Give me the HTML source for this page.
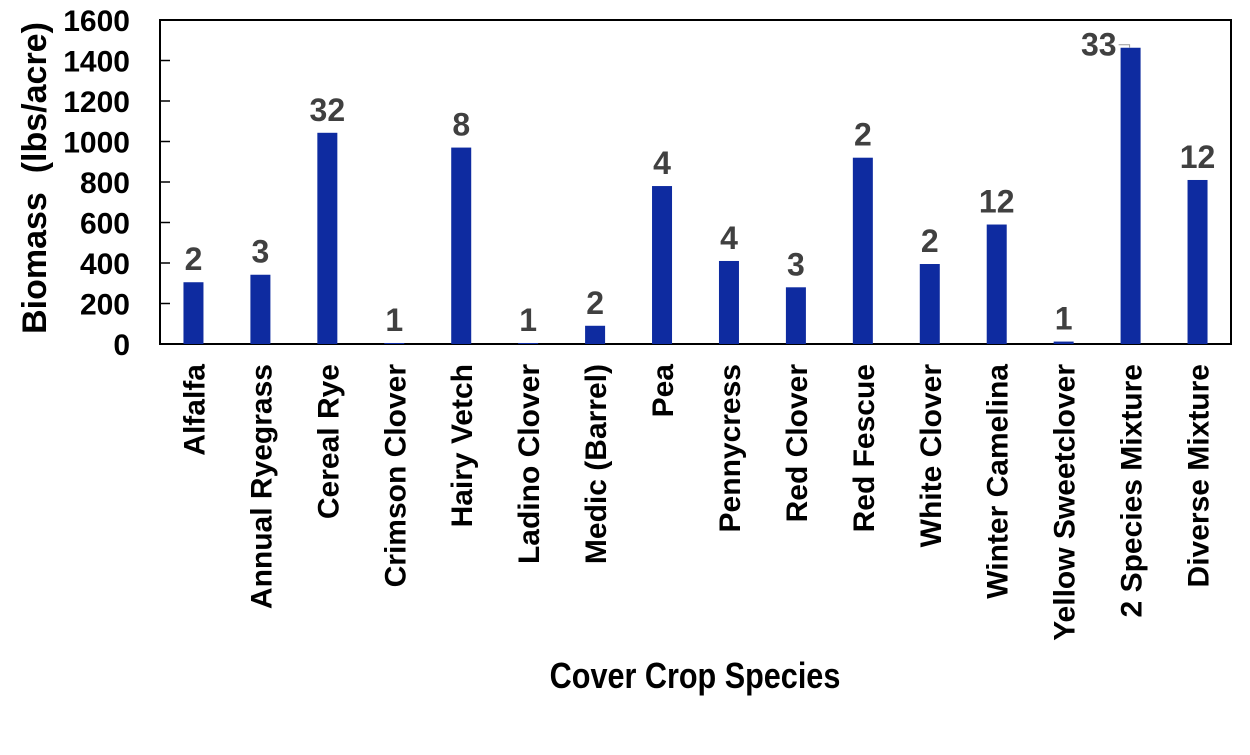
<!DOCTYPE html>
<html><head><meta charset="utf-8"><style>
body{margin:0;background:#fff;width:1250px;height:750px;overflow:hidden}
svg text{font-family:"Liberation Sans",Arial,sans-serif;font-weight:bold}
</style></head><body>
<svg id="chart" width="1250" height="750" xmlns="http://www.w3.org/2000/svg">
<g id="g"></g>
</svg>
<script>
const categories=["Alfalfa","Annual Ryegrass","Cereal Rye","Crimson Clover","Hairy Vetch","Ladino Clover","Medic (Barrel)","Pea","Pennycress","Red Clover","Red Fescue","White Clover","Winter Camelina","Yellow Sweetclover","2 Species Mixture","Diverse Mixture"];
const biomass=[305,342,1043,5,970,5,90,780,410,280,920,395,590,12,1463,810];
const counts=[2,3,32,1,8,1,2,4,4,3,2,2,12,1,33,12];
const yTicks=[0,200,400,600,800,1000,1200,1400,1600];
const L=160,R=1231,T=20,B=344,yMax=1600;
const band=(R-L)/categories.length;
const y=v=>B-(v/yMax)*(B-T);
const x=i=>L+band*(i+0.5);
const g=document.getElementById('g');
const NS="http://www.w3.org/2000/svg";
function mk(t,a){const e=document.createElementNS(NS,t);for(const k in a)e.setAttribute(k,a[k]);g.appendChild(e);return e;}
let e;
e=mk('rect',{x:L,y:T,width:R-L,height:B-T,fill:'none',stroke:'#000','stroke-width':2});


yTicks.forEach(v=>{
  e=mk('line',{x1:L,x2:L+10,y1:y(v),y2:y(v),stroke:'#000','stroke-width':1.5});
  
  
  e=mk('text',{x:L-30,y:y(v)+11,'text-anchor':'end','font-size':30,fill:'#000'});
  e.textContent=v;
  
  
});
categories.forEach((c,i)=>{
  e=mk('rect',{x:x(i)-10,y:y(biomass[i]),width:20,height:B-y(biomass[i]),fill:'#0e2ba0'});
  
  
  let attrs;
  if(i===14){attrs={x:x(i)-14,y:y(biomass[i])+8,'text-anchor':'end','font-size':32,fill:'#404040'};}
  else{attrs={x:x(i),y:y(biomass[i])-12,'text-anchor':'middle','font-size':32,fill:'#404040'};}
  e=mk('text',attrs);
  e.textContent=counts[i];
  
  
  e=mk('text',{transform:`translate(${x(i)+11},364) rotate(-90)`,'text-anchor':'end','font-size':30,fill:'#000'});
  e.textContent=c;
  
  
});
e=mk('path',{d:`M${x(14)-12} ${y(biomass[14])-3} h11 v3`,fill:'none',stroke:'#999','stroke-width':1});


e=mk('text',{transform:'translate(46,178) rotate(-90)','text-anchor':'middle','font-size':34,fill:'#000'});
e.textContent='Biomass\u00a0\u00a0(lbs/acre)';


e=mk('text',{transform:'translate(695,688) scale(0.85,1)','text-anchor':'middle','font-size':36,fill:'#000'});
e.textContent='Cover Crop Species';


</script>
</body></html>
